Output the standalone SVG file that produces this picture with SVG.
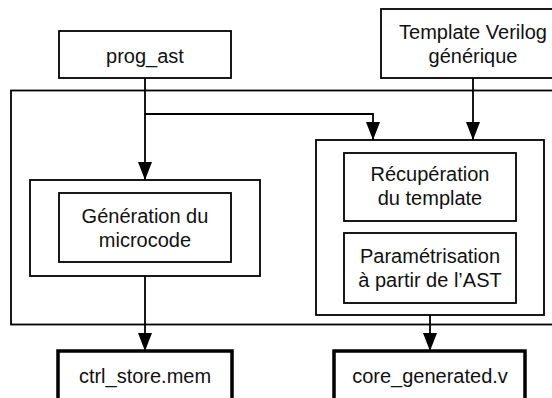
<svg xmlns="http://www.w3.org/2000/svg" width="552" height="398" viewBox="0 0 552 398">
<style>
.box{fill:#fff;stroke:#000;stroke-width:1.8}
.grp{fill:none;stroke:#000;stroke-width:1.8}
.out{fill:#fff;stroke:#000;stroke-width:3.5}
.lbl{font-family:"Liberation Sans",Arial,Helvetica,sans-serif;font-size:20px;fill:#111;text-anchor:middle}
.conn{fill:none;stroke:#000;stroke-width:1.8}
</style>
<defs>
<marker id="arr" viewBox="0 0 18 14" refX="18" refY="7" markerWidth="18" markerHeight="14" markerUnits="userSpaceOnUse" orient="auto">
<path d="M0,0 L18,7 L0,14 Z" fill="#000"/>
</marker>
</defs>
<rect width="552" height="398" fill="#fff"/>
<g id="container">
<rect class="grp" x="11" y="90.5" width="560" height="234"/>
</g>
<g id="group-left">
<rect class="grp" x="30" y="180" width="230" height="96"/>
</g>
<g id="group-right">
<rect class="grp" x="316" y="140" width="228" height="175"/>
</g>
<g id="prog_ast">
<rect class="box" x="59" y="31" width="172" height="47"/>
<text class="lbl" x="145" y="62.5">prog_ast</text>
</g>
<g id="template">
<rect class="box" x="381" y="9" width="184" height="69"/>
<text class="lbl" x="473" y="38.5">Template Verilog</text>
<text class="lbl" x="473" y="62.5">générique</text>
</g>
<g id="generation">
<rect class="box" x="59" y="193" width="172" height="69"/>
<text class="lbl" x="145" y="223">Génération du</text>
<text class="lbl" x="145" y="247">microcode</text>
</g>
<g id="recuperation">
<rect class="box" x="344" y="153" width="172" height="68"/>
<text class="lbl" x="430" y="181">Récupération</text>
<text class="lbl" x="430" y="205">du template</text>
</g>
<g id="parametrisation">
<rect class="box" x="344" y="233" width="172" height="70"/>
<text class="lbl" x="430" y="263">Paramétrisation</text>
<text class="lbl" x="430" y="287">à partir de l’AST</text>
</g>
<g id="ctrl_store">
<rect class="out" x="58" y="351" width="174" height="60"/>
<text class="lbl" x="145" y="383">ctrl_store.mem</text>
</g>
<g id="core_generated">
<rect class="out" x="334" y="351" width="191" height="60"/>
<text class="lbl" x="430" y="383">core_generated.v</text>
</g>
<g id="connectors">
<path class="conn" d="M145,78 V180" marker-end="url(#arr)"/>
<path class="conn" d="M145,114 H373 V140" marker-end="url(#arr)"/>
<path class="conn" d="M473,78 V140" marker-end="url(#arr)"/>
<path class="conn" d="M145,276 V351" marker-end="url(#arr)"/>
<path class="conn" d="M430,315 V351" marker-end="url(#arr)"/>
</g>
</svg>
